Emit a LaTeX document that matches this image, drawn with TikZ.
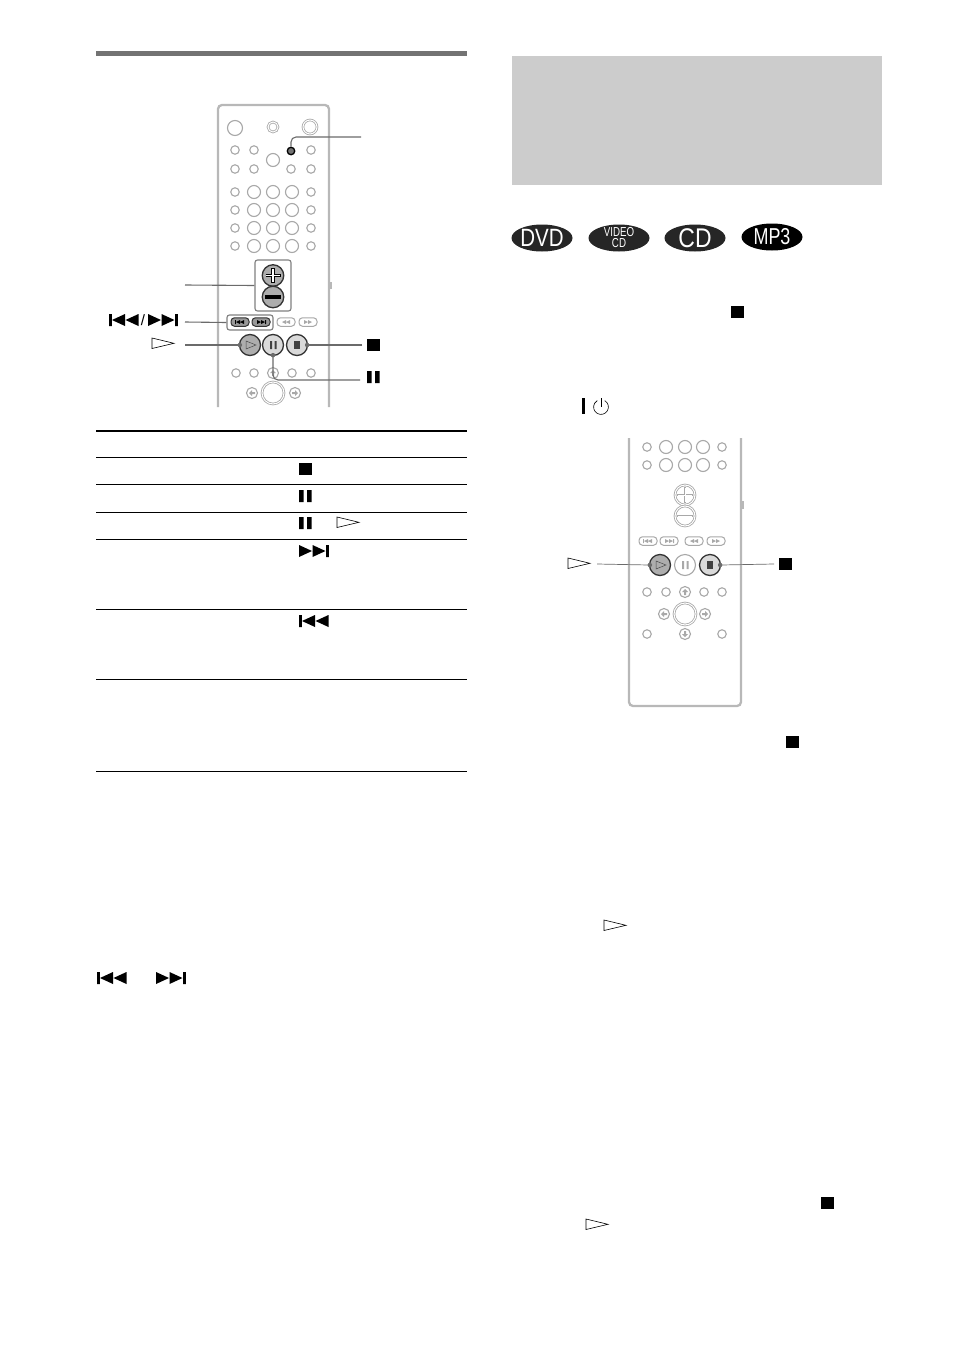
\documentclass[tikz,border=0pt]{standalone}
\usepackage{fontspec}
\setmainfont{Liberation Sans}
\usetikzlibrary{shapes.geometric}
\definecolor{ringc}{gray}{0.66}
\definecolor{bodyc}{gray}{0.72}
\definecolor{leadc}{gray}{0.42}
\tikzset{
  btn/.style={circle,draw=ringc,fill=white,line width=1.1pt,inner sep=0pt,minimum size=#1},
  sbtn/.style={btn=8.5pt},
  mbtn/.style={btn=13pt},
  dbl/.style={circle,draw=ringc,fill=white,line width=.8pt,double=white,double distance=1pt,inner sep=0pt,minimum size=#1},
  active/.style={circle,draw=black!80,fill=black!32,line width=1.3pt,inner sep=0pt,minimum size=#1},
  pill/.style={rounded corners=3.5pt,draw=#1,line width=1pt,inner sep=0pt,minimum width=18pt,minimum height=8.5pt},
  body/.style={draw=bodyc,line width=2.3pt,rounded corners=4pt},
  lead/.style={draw=leadc,line width=1.1pt},
  groupbox/.style={draw=black!50,line width=1.1pt,rounded corners=2.5pt},
  rulex/.style={line width=.9pt,black},
  disc/.style={ellipse,fill=#1,text=white,inner sep=-12pt,minimum width=61pt,minimum height=27pt,align=center},
  dot/.style={circle,fill=leadc,inner sep=0pt,minimum size=4.5pt}
}
% glyphs, given by their left/top corner
\newcommand{\gstop}[2]{\fill[black] (#1,#2) rectangle ++(12.5,12);}
\newcommand{\gpause}[2]{\fill[black] (#1,#2) rectangle ++(4.5,12) (#1+8,#2) rectangle ++(4.5,12);}
\newcommand{\gplay}[2]{\draw[black,line width=.6pt,fill=white] (#1,#2) -- ++(0,10.5) -- ++(22,-5.2) -- cycle;}
\newcommand{\gnext}[2]{\fill[black] (#1,#2) -- ++(13,6) -- ++(-13,6) -- cycle (#1+13.5,#2) -- ++(13,6) -- ++(-13,6) -- cycle (#1+27,#2) rectangle ++(2.8,12);}
\newcommand{\gprev}[2]{\fill[black] (#1,#2) rectangle ++(2.8,12) (#1+16,#2) -- ++(-13,6) -- ++(13,6) -- cycle (#1+29.5,#2) -- ++(-13,6) -- ++(13,6) -- cycle;}
% small arrow buttons: name, x, y, rotation
\newcommand{\garrow}[4]{\node[btn=11pt] (#1) at (#2,#3) {};
  \fill[ringc,shift={(#2,#3)},rotate=#4] (-3,0) -- (0,-3) -- (0,-1) -- (3,-1) -- (3,1) -- (0,1) -- (0,3) -- cycle;}
% marks inside the narrow pill buttons
\newcommand{\mprev}[3]{\fill[#3,shift={(#1,#2)}] (-5,-2) rectangle (-4.2,2) (-4,0) -- (0,-2) -- (0,2) -- cycle (0,0) -- (4,-2) -- (4,2) -- cycle;}
\newcommand{\mnext}[3]{\fill[#3,shift={(#1,#2)}] (5,-2) rectangle (4.2,2) (4,0) -- (0,-2) -- (0,2) -- cycle (0,0) -- (-4,-2) -- (-4,2) -- cycle;}
\newcommand{\mrew}[3]{\fill[#3,shift={(#1,#2)}] (-4,0) -- (0,-2) -- (0,2) -- cycle (0,0) -- (4,-2) -- (4,2) -- cycle;}
\newcommand{\mfwd}[3]{\fill[#3,shift={(#1,#2)}] (4,0) -- (0,-2) -- (0,2) -- cycle (0,0) -- (-4,-2) -- (-4,2) -- cycle;}
\begin{document}
\begin{tikzpicture}[x=1pt,y=-1pt]
\useasboundingbox (0,0) rectangle (954,1352);
\fill[white] (0,0) rectangle (954,1352);
% header bars
\fill[black!55] (96,51) rectangle (467,56);
\fill[black!20] (512,56) rectangle (882,185);
% ---------- left remote ----------
\draw[body] (218,407) -- (218,105) -- (329,105) -- (329,407);
\fill[bodyc] (329,282) rectangle (332,289);
\node[btn=15pt] (a1) at (235,128) {};
\node[dbl=10pt] (a2) at (273,127) {};
\node[dbl=14pt] (a3) at (310,127) {};
\foreach \xx/\yy in {235/150,254/150,311/150,235/169,254/169,291/169,311/169}
  \node[sbtn,name=s\xx-\yy] at (\xx,\yy) {};
\node[mbtn] (center1) at (273,160) {};
\node[active=7.5pt,draw=black,fill=black!55] (audio) at (291,151) {};
\foreach \yy in {192,210,228,246}{
  \foreach \xx in {235,311} \node[sbtn,name=e\xx-\yy] at (\xx,\yy) {};
  \foreach \xx in {254,273,292} \node[mbtn,name=m\xx-\yy] at (\xx,\yy) {};
}
\node[groupbox,minimum width=36pt,minimum height=51pt,inner sep=0pt] (volbox) at (273,285.5) {};
\node[active=21.5pt] (volp) at (273,275.5) {};
\node[active=21.5pt] (volm) at (273,297) {};
\draw[black,line width=3.4pt] (265.5,275.5) -- (280.5,275.5) (273,268) -- (273,283);
\draw[white,line width=1.6pt] (266.2,275.5) -- (279.8,275.5) (273,268.7) -- (273,282.3);
\fill[black] (265,295.3) rectangle (281,298.7);
\node[groupbox,minimum width=46pt,minimum height=15pt,inner sep=0pt] (skipbox) at (250,322.5) {};
\node[pill=black!80,fill=black!40] (pprev) at (240,322) {};
\node[pill=black!80,fill=black!40] (pnext) at (261,322) {};
\node[pill=ringc,fill=white] (prew) at (286,322) {};
\node[pill=ringc,fill=white] (pfwd) at (308,322) {};
\mprev{240}{322}{black}
\mnext{261}{322}{black}
\mrew{286}{322}{ringc}
\mfwd{308}{322}{ringc}
\node[active=21pt] (play1) at (250,345) {};
\node[active=21pt,fill=black!15] (pause1) at (273,345) {};
\node[active=21pt,fill=black!15] (stop1) at (297,345) {};
\draw[black!70,line width=.5pt] (246,341) -- (246,349) -- (256,345) -- cycle;
\fill[black!75] (270,341) rectangle (272,349) (274.5,341) rectangle (276.5,349);
\fill[black!75] (294,341) rectangle (300,349);
\foreach \xx in {236,254,292,311} \node[sbtn,name=r\xx] at (\xx,373) {};
\garrow{up1}{273}{373}{-90}
\garrow{lf1}{252}{393}{0}
\garrow{rt1}{295}{393}{180}
\node[dbl=22pt] (ok1) at (273,393) {};
% leaders
\coordinate (lt) at (361,137);
\coordinate (lv) at (185,285);
\coordinate (ls) at (185,322);
\coordinate (lp) at (185,345);
\coordinate (lst) at (362,345);
\coordinate (lpa) at (360,380);
\draw[lead,rounded corners=5pt] (audio.north) -- (audio.north |- lt) -- (lt);
\draw[lead] (lv) -- (volbox.west);
\draw[lead] (ls) -- (skipbox.west);
\draw[lead] (lp) -- (play1.west);
\draw[lead] (lst) -- (stop1.east);
\draw[lead,rounded corners=5pt] (pause1.south) -- (pause1.south |- lpa) -- (lpa);
\node[dot,xshift=1pt] (d1) at (play1.west) {};
\node[dot,xshift=-1pt] (d2) at (stop1.east) {};
\node[dot,yshift=1pt] (d3) at (pause1.south) {};
\gprev{109}{314}
\node[inner sep=0pt,font=\fontsize{15}{15}\selectfont] (slash) at (143,320) {/};
\gnext{148}{314}
\gplay{152}{338}
\gstop{367}{339}
\gpause{367}{371}
% ---------- table ----------
\draw[black,line width=1.6pt] (96,431) -- (467,431);
\foreach \yy in {457,484,512,539,609,679,771}
  \draw[rulex] (96,\yy) -- (467,\yy);
\gstop{299}{463}
\gpause{299}{490}
\gpause{299}{517}
\gplay{337}{517}
\gnext{299}{545}
\gprev{299}{615}
\gprev{97}{972}
\gnext{156}{972}
% ---------- discs ----------
\node[disc=black!85,font=\fontsize{25}{25}\selectfont] (dvd) at (542,238) {\scalebox{.82}[1]{DVD}};
\node[disc=black!85,font=\fontsize{13}{11}\selectfont] (vcd) at (619,238) {\scalebox{.75}[1]{VIDEO}\\\scalebox{.75}[1]{CD}};
\node[disc=black!85,font=\fontsize{27}{27}\selectfont] (cd) at (695,238) {\scalebox{.85}[1]{CD}};
\node[disc=black,font=\fontsize{23}{23}\selectfont] (mp3) at (772,237) {\scalebox{.78}[1]{MP3}};
\gstop{731}{306}
\fill[black] (582,398) rectangle (585,414);
\draw[black,line width=.6pt] (604.7,400.6) arc[start angle=-60,end angle=240,radius=7.4];
\draw[black,line width=.6pt] (601,398) -- (601,407);
% ---------- right remote ----------
\draw[body] (629,438) -- (629,706) -- (741,706) -- (741,438);
\fill[bodyc] (741,501) rectangle (744,509);
\foreach \yy in {447,465}{
  \foreach \xx in {647,722} \node[sbtn,name=t\xx-\yy] at (\xx,\yy) {};
  \foreach \xx in {666,685,703} \node[mbtn,name=u\xx-\yy] at (\xx,\yy) {};
}
\node[dbl=20pt] (volp2) at (685,495) {};
\node[dbl=20pt] (volm2) at (685,516) {};
\draw[ringc,line width=2.2pt] (677,495) -- (693,495) (685,487) -- (685,503) (677,516) -- (693,516);
\draw[white,line width=.9pt] (677.6,495) -- (692.4,495) (685,487.6) -- (685,502.4) (677.6,516) -- (692.4,516);
\foreach \xx in {648,669,694,716} \node[pill=ringc,fill=white,name=q\xx] at (\xx,541) {};
\mprev{648}{541}{ringc}
\mnext{669}{541}{ringc}
\mrew{694}{541}{ringc}
\mfwd{716}{541}{ringc}
\node[active=21pt] (play2) at (660,565) {};
\node[btn=21pt] (pause2) at (685,565) {};
\node[active=21pt,fill=black!15] (stop2) at (710,565) {};
\draw[black!70,line width=.5pt] (656,561) -- (656,569) -- (666,565) -- cycle;
\fill[ringc] (682,561) rectangle (684,569) (686.5,561) rectangle (688.5,569);
\fill[black!75] (707,561) rectangle (713,569);
\foreach \xx in {647,666,704,722} \node[sbtn,name=v\xx] at (\xx,592) {};
\garrow{up2}{685}{592}{-90}
\garrow{lf2}{664}{614}{0}
\garrow{rt2}{705}{614}{180}
\node[dbl=22pt] (ok2) at (685,614) {};
\node[sbtn] (w1) at (647,634) {};
\garrow{dn2}{685}{634}{90}
\node[sbtn] (w2) at (722,634) {};
\coordinate (lp2) at (597,564);
\coordinate (ls2) at (774,564);
\draw[lead,line width=.7pt] (lp2) -- (play2.west);
\draw[lead,line width=.7pt] (ls2) -- (stop2.east);
\node[dot,xshift=1pt] (d4) at (play2.west) {};
\node[dot,xshift=-1pt] (d5) at (stop2.east) {};
\gplay{568}{558}
\gstop{779}{558}
% ---------- body glyphs ----------
\gstop{786}{736}
\gplay{604}{920}
\gstop{821}{1197}
\gplay{586}{1219}
\end{tikzpicture}
\end{document}
